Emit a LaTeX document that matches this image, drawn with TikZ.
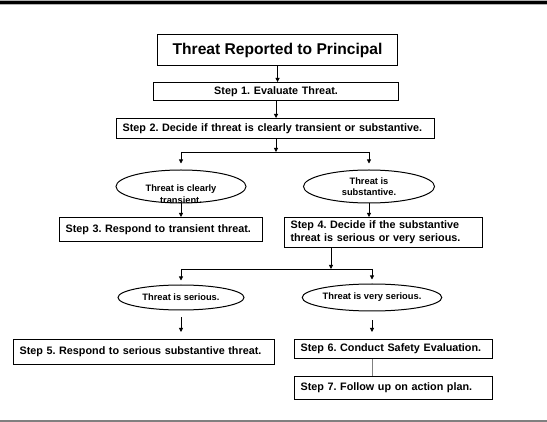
\documentclass[tikz,border=0pt]{standalone}
\usepackage{fontspec}
\setmainfont{Liberation Sans}
\usepackage{tikz}
\usetikzlibrary{shapes,arrows,arrows.meta,positioning,calc}
\frenchspacing

\begin{document}
\begin{tikzpicture}[x=1pt, y=-1pt, line width=0.8pt,
    >={Triangle[length=4pt,width=4pt]},
    box/.style={rectangle, draw, line width=1.1pt, anchor=north west, inner xsep=6pt, inner ysep=0pt,
        align=left, font=\fontsize{10.8}{13}\selectfont\bfseries},
    head/.style={box, align=center, font=\fontsize{15.6}{18}\selectfont\bfseries},
    case/.style={ellipse, draw, line width=1pt, inner sep=0pt, align=center,
        font=\fontsize{9.3}{11.5}\selectfont\bfseries},
    note/.style={inner sep=0pt, align=center, font=\fontsize{9.3}{12}\selectfont\bfseries},
    flow/.style={->}]

    \useasboundingbox (0,0) rectangle (547,422);

    % Page rules
    \coordinate (topL) at (0,2.5);
    \coordinate (topR) at (547,2.5);
    \coordinate (botL) at (0,421);
    \coordinate (botR) at (547,421);
    \draw[gray!60, line width=5pt] (topL) -- (topR);
    \draw[black, line width=2.8pt] (topL) -- (topR);
    \draw[gray, line width=1.5pt] (botL) -- (botR);

    % Steps
    \node[head, minimum width=240pt, minimum height=31pt] (principal) at (157,34) {Threat Reported to Principal};
    \node[box, align=center, text width=233pt, minimum height=18pt] (step1) at (153,82) {Step 1. Evaluate Threat.};
    \node[box, text width=306pt, minimum height=20pt] (step2) at (116,118) {Step 2. Decide if threat is clearly transient or substantive.};
    \node[box, text width=191pt, minimum height=24pt] (step3) at (59,217) {Step 3. Respond to transient threat.};
    \node[box, text width=186pt, minimum height=30pt] (step4) at (284,217) {Step 4. Decide if the substantive\\threat is serious or very serious.};
    \node[box, text width=249pt, minimum height=25pt] (step5) at (13,339) {Step 5. Respond to serious substantive threat.};
    \node[box, text width=186pt, minimum height=19pt] (step6) at (294,339) {Step 6. Conduct Safety Evaluation.};
    \node[box, text width=186pt, minimum height=23pt] (step7) at (294,376) {Step 7. Follow up on action plan.};

    % Cases
    \node[case, minimum width=130pt, minimum height=33pt] (transient) at (181,186.5) {};
    \node[note] (transientTxt) at ([yshift=-7.5pt]transient.center) {Threat is clearly\\transient.};
    \node[case, minimum width=131pt, minimum height=33pt] (substantive) at (369,186.5) {Threat is\\substantive.};
    \node[case, minimum width=126pt, minimum height=25pt] (serious) at (181,297.5) {Threat is serious.};
    \node[case, minimum width=120pt, minimum height=27pt] (veryserious) at (372,297.5) {Threat is very serious.};

    % Forks
    \coordinate (fork1) at (276,152);
    \coordinate (fork2) at (331,269);

    % Connectors
    \draw[flow] (principal.south) -- (principal.south |- step1.north);
    \draw[flow] (step1.south) -- (step1.south |- step2.north);
    \draw[flow] (fork1 |- step2.south) -- (fork1);
    \draw (transient |- fork1) -- (substantive |- fork1);
    \draw[flow, shorten >=6pt] (transient |- fork1) -- (transient.north);
    \draw[flow, shorten >=6pt] (substantive |- fork1) -- (substantive.north);
    \draw[flow] (transient.south) -- (transient.south |- step3.north);
    \draw[flow] (substantive.south) -- (substantive.south |- step4.north);
    \draw[flow] (fork2 |- step4.south) -- (fork2);
    \draw (serious |- fork2) -- (veryserious |- fork2);
    \draw[flow, shorten >=4pt] (serious |- fork2) -- (serious.north);
    \draw[flow, shorten >=4pt] (veryserious |- fork2) -- (veryserious.north);
    \draw[flow, shorten <=7pt, shorten >=7pt] (serious.south) -- (serious.south |- step5.north);
    \draw[flow, shorten <=9pt, shorten >=7pt] (veryserious.south) -- (veryserious.south |- step6.north);
    \draw[gray] (veryserious.south |- step6.south) -- (veryserious.south |- step7.north);

\end{tikzpicture}
\end{document}
